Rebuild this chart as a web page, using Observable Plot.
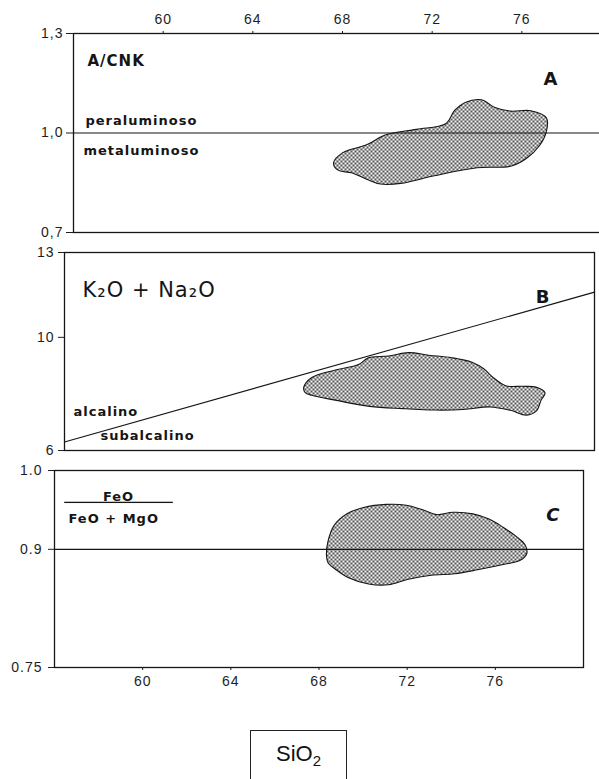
<!DOCTYPE html>
<html><head><meta charset="utf-8">
<script src="https://cdn.jsdelivr.net/npm/d3@7"></script>
<script src="https://cdn.jsdelivr.net/npm/@observablehq/plot@0.6"></script>
<style>
html,body{margin:0;padding:0;background:#fff;overflow:hidden;}
#wrap{position:relative;width:599px;height:779px;overflow:hidden;background:#fff;}
.panel{position:absolute;left:0;max-width:none !important;}
#sio2{position:absolute;left:250px;top:730px;width:97px;height:60px;border:1.3px solid #222;box-sizing:border-box;
  font-family:"Liberation Sans",Arial,sans-serif;font-size:22px;color:#111;text-align:center;line-height:46px;}
#sio2 sub{font-size:15px;line-height:0;vertical-align:-5px;}
svg text{letter-spacing:1px;}
svg g[aria-label*="axis"], svg g[aria-label*="axis"] text{font-size:14px !important;}
</style></head>
<body>
<svg width="0" height="0" style="position:absolute"><defs>
<pattern id="dots" width="4" height="4" patternUnits="userSpaceOnUse">
<rect width="4" height="4" fill="#f4f4f4"/><circle cx="1" cy="1" r="1" fill="#222"/><circle cx="3" cy="3" r="1" fill="#222"/>
</pattern></defs></svg>
<div id="wrap"><div id="sio2">SiO<sub>2</sub></div></div>
<script>
// ---- shared x (SiO2) ----
const xDomain = [56, 80];
const xTicks = [60, 64, 68, 72, 76];

// ---- Panel A: A/CNK ----
const yDomainA = [0.7, 1.3];
const yTicksA = [0.7, 1.0, 1.3];
const yLabelsA = ["0,7", "1,0", "1,3"];
const refA = 1.0;
const regionAx = [67.6,68.0,69.1,69.9,71.3,72.6,73.0,73.5,74.2,74.8,75.5,76.4,77.1,77.1,76.8,76.2,75.5,74.0,72.1,70.6,69.7,69.1,68.4,67.8];
const regionAy = [0.91,0.94,0.965,0.994,1.011,1.028,1.068,1.093,1.10,1.077,1.066,1.067,1.045,1.006,0.963,0.923,0.90,0.895,0.871,0.848,0.846,0.86,0.88,0.888];

// ---- Panel B: K2O + Na2O ----
const yDomainB = [6, 13];
const yTicksB = [6, 10, 13];
const yLabelsB = ["6", "10", "13"];
const dividerBx = [56, 80];
const dividerBy = [6.3, 11.6];
const regionBx = [66.83,67.2,68.23,69.32,69.76,70.67,71.58,72.49,73.54,74.45,75.0,75.38,75.98,76.75,77.35,77.76,77.59,77.37,76.92,76.19,75.28,74.05,72.82,71.32,69.82,68.26,67.2,66.9];
const regionBy = [8.22,8.58,8.84,9.04,9.28,9.34,9.46,9.37,9.28,9.12,8.88,8.60,8.29,8.27,8.24,8.04,7.79,7.40,7.25,7.42,7.54,7.45,7.43,7.48,7.56,7.78,7.95,8.05];

// ---- Panel C: FeO/(FeO+MgO) ----
const yDomainC = [0.75, 1.0];
const yTicksC = [0.75, 0.9, 1.0];
const yLabelsC = ["0.75", "0.9", "1.0"];
const refC = 0.9;
const regionCx = [68.34,68.40,68.68,69.27,70.02,71.06,71.96,72.73,73.33,74.08,74.98,75.74,76.35,76.96,77.34,77.43,77.13,76.41,75.19,74.15,73.09,72.05,71.15,70.25,69.34,68.73,68.41];
const regionCy = [0.892,0.909,0.930,0.945,0.953,0.957,0.956,0.950,0.944,0.947,0.945,0.938,0.928,0.916,0.906,0.895,0.886,0.881,0.874,0.869,0.867,0.862,0.855,0.856,0.864,0.875,0.883];

const zip = (xs, ys) => xs.map((x, i) => ({x, y: ys[i]}));
const fmt = (ticks, labels) => d => labels[ticks.indexOf(d)];
const ink = "#151515";
const lab = "'DejaVu Sans', sans-serif";
const baseStyle = {fontFamily: "'Liberation Sans', Arial, sans-serif", fontSize: "14px", color: "#1e1e1e", background: "transparent"};

function place(svg, top) {
  svg.classList.add("panel");
  svg.style.top = top + "px";
  svg.style.maxWidth = "none";
  document.getElementById("wrap").appendChild(svg);
}

const blob = (data) => Plot.line(data, {x: "x", y: "y", curve: "catmull-rom-closed", fill: "url(#dots)", stroke: ink, strokeWidth: 1.1});

// Panel A
const plotA = Plot.plot({
  width: 620, height: 240, marginTop: 33, marginBottom: 8, marginLeft: 73, marginRight: 9,
  style: baseStyle,
  x: {domain: xDomain, ticks: xTicks, axis: "top", tickSize: 3, tickPadding: 7, label: null},
  y: {domain: yDomainA, ticks: yTicksA, tickFormat: fmt(yTicksA, yLabelsA), tickSize: 7, tickPadding: 3, label: null},
  marks: [
    blob(zip(regionAx, regionAy)),
    Plot.ruleY([refA], {stroke: ink, strokeWidth: 1.2}),
    Plot.frame({stroke: ink, strokeWidth: 1.3}),
    Plot.text(["A/CNK"], {frameAnchor: "top-left", dx: 14, dy: 22, textAnchor: "start", fontSize: 15, fontWeight: "bold", fontFamily: lab, fill: ink}),
    Plot.text(["peraluminoso"], {y: () => refA, frameAnchor: "left", dx: 12, dy: -12, textAnchor: "start", fontSize: 13, fontWeight: "bold", fontFamily: lab, fill: ink}),
    Plot.text(["metaluminoso"], {y: () => refA, frameAnchor: "left", dx: 10, dy: 18, textAnchor: "start", fontSize: 13, fontWeight: "bold", fontFamily: lab, fill: ink}),
    Plot.text(["A"], {frameAnchor: "top-right", dx: -53, dy: 39, textAnchor: "end", fontSize: 18, fontWeight: "bold", fontFamily: lab, fill: ink})
  ]
});
place(plotA, 0);

// Panel B
const plotB = Plot.plot({
  width: 599, height: 220, marginTop: 12, marginBottom: 10, marginLeft: 64, marginRight: 5,
  style: baseStyle,
  x: {domain: xDomain, axis: null},
  y: {domain: yDomainB, ticks: yTicksB, tickFormat: fmt(yTicksB, yLabelsB), tickSize: 6, tickPadding: 4, label: null},
  marks: [
    blob(zip(regionBx, regionBy)),
    Plot.line(zip(dividerBx, dividerBy), {x: "x", y: "y", stroke: ink, strokeWidth: 1.2}),
    Plot.frame({stroke: ink, strokeWidth: 1.3}),
    Plot.text(["K\u2082O + Na\u2082O"], {frameAnchor: "top-left", dx: 18, dy: 30, textAnchor: "start", fontSize: 21, fontFamily: lab, fill: ink}),
    Plot.text(["B"], {frameAnchor: "top-right", dx: -44, dy: 38, textAnchor: "end", fontSize: 18, fontWeight: "bold", fontFamily: lab, fill: ink}),
    Plot.text(["alcalino"], {frameAnchor: "bottom-left", dx: 9, dy: -35, textAnchor: "start", fontSize: 13, fontWeight: "bold", fontFamily: lab, fill: ink}),
    Plot.text(["subalcalino"], {frameAnchor: "bottom-left", dx: 36, dy: -11, textAnchor: "start", fontSize: 13, fontWeight: "bold", fontFamily: lab, fill: ink})
  ]
});
place(plotB, 240);

// Panel C
const pad = "\u00a0".repeat(7);
const plotC = Plot.plot({
  width: 599, height: 240, marginTop: 10, marginBottom: 33, marginLeft: 54, marginRight: 16,
  style: baseStyle,
  x: {domain: xDomain, ticks: xTicks, axis: "bottom", tickSize: 3, tickPadding: 6, label: null},
  y: {domain: yDomainC, ticks: yTicksC, tickFormat: fmt(yTicksC, yLabelsC), tickSize: 6, tickPadding: 6, label: null},
  marks: [
    blob(zip(regionCx, regionCy)),
    Plot.ruleY([refC], {stroke: ink, strokeWidth: 1.2}),
    Plot.frame({stroke: ink, strokeWidth: 1.3}),
    Plot.text([pad + "FeO" + pad], {frameAnchor: "top-left", dx: 64, dy: 21, textAnchor: "middle", fontSize: 13, fontWeight: "bold", fontFamily: lab, fill: ink}),
    Plot.text(["FeO + MgO"], {frameAnchor: "top-left", dx: 14, dy: 43, textAnchor: "start", fontSize: 13, fontWeight: "bold", fontFamily: lab, fill: ink}),
    Plot.text(["C"], {frameAnchor: "top-right", dx: -23, dy: 38, textAnchor: "end", fontSize: 18, fontWeight: "bold", fontStyle: "italic", fontFamily: lab, fill: ink})
  ]
});
d3.select(plotC).selectAll("text").filter(function () { return this.textContent.trim() === "FeO"; })
  .style("text-decoration", "underline");
place(plotC, 460);
</script>
</body></html>
